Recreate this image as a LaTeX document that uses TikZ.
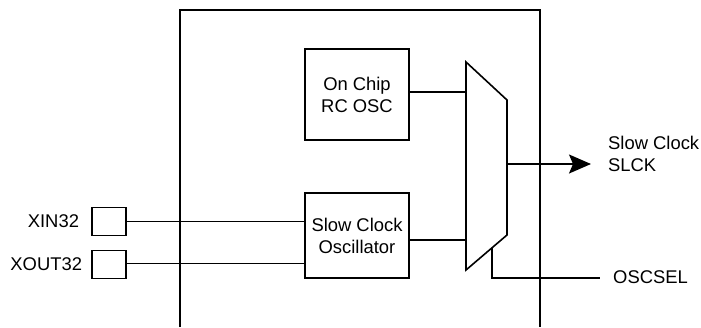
\documentclass[tikz,border=0pt]{standalone}
\usepackage{fontspec}
\setmainfont{Liberation Sans}
\usetikzlibrary{arrows.meta,positioning,calc}
\tikzset{
    block/.style={rectangle, draw, line width=1.6pt, minimum width=104pt, minimum height=88pt, align=center, font=\fontsize{18.4}{22}\selectfont, inner sep=0},
    pad/.style={rectangle, draw, line width=1.6pt, minimum width=34pt, minimum height=28pt, inner sep=0},
    lbl/.style={align=left, font=\fontsize{18.4}{22}\selectfont, inner sep=0},
    wire/.style={line width=0.9pt},
    bus/.style={line width=1.6pt},
    flow/.style={-{Stealth[length=22pt, width=19pt, inset=4pt]}, line width=1.6pt},
}

\begin{document}
\begin{tikzpicture}[x=1pt, y=-1pt]
    \useasboundingbox (0,0) rectangle (701,327);
    % chip outline, open at the bottom
    \draw[bus, line width=2pt] (180,327) -- (180,10) -- (540,10) -- (540,327);

    \node[block, minimum height=91pt] (rcosc) at (357,94.5) {On Chip\\RC OSC};
    \node[block, minimum height=85pt] (sclk) at (357,235.5) {Slow Clock\\Oscillator};

    % multiplexer
    \coordinate (muxtl) at (466,62);
    \coordinate (muxtr) at (507,100);
    \coordinate (muxbr) at (507,235);
    \coordinate (muxbl) at (466,270);
    \coordinate (muxout) at (507,164);
    \coordinate (selin) at (492,248);
    \draw[bus] (muxtl) -- (muxtr) -- (muxbr) -- (muxbl) -- cycle;

    % pins
    \node[pad] (xin) at (109,221.5) {};
    \node[pad] (xout) at (109,264.5) {};
    \node[lbl, left=12pt of xin] (xinlbl) {XIN32};
    \node[lbl, left=9pt of xout] (xoutlbl) {XOUT32};

    \node[lbl, anchor=west] (slck) at (608,154) {Slow Clock\\SLCK};
    \node[lbl, anchor=west] (oscsel) at (613,277) {OSCSEL};

    \draw[wire] (xin.east) -- (xin.east -| sclk.west);
    \draw[wire] ([yshift=1.5pt]xout.east) -- ([yshift=1.5pt]xout.east -| sclk.west);
    \draw[bus] ([yshift=2.5pt]rcosc.east) -- ([yshift=2.5pt]rcosc.east -| muxtl);
    \draw[bus] ([yshift=-4.5pt]sclk.east) -- ([yshift=-4.5pt]sclk.east -| muxtl);
    \draw[flow, shorten >=17pt] (muxout) -- (muxout -| slck.west);
    \draw[bus, shorten >=13pt] (selin) |- ([yshift=-1pt]oscsel.west);
\end{tikzpicture}
\end{document}
